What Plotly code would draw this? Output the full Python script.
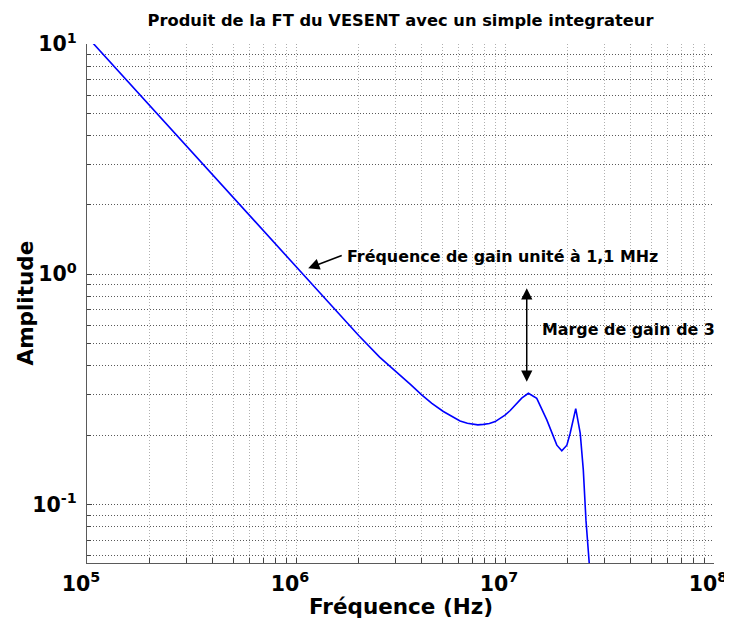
import plotly.graph_objects as go
import numpy as np

# ---- data ----
freq_hz = [1.0e5, 1.0e6, 1.585e6, 1.995e6, 2.512e6, 3.02e6, 3.548e6, 3.981e6,
           4.467e6, 5.07e6, 5.623e6, 6.095e6, 6.607e6, 6.998e6, 7.413e6,
           7.889e6, 8.414e6, 8.974e6, 9.441e6, 1.0e7, 1.059e7, 1.117e7,
           1.202e7, 1.294e7, 1.419e7, 1.585e7, 1.77e7, 1.87e7, 1.977e7,
           2.05e7, 2.18e7, 2.29e7, 2.37e7, 2.44e7, 2.53e7, 2.63e7]
amplitude = [10.77, 1.077, 0.679, 0.542, 0.4365, 0.3776, 0.331, 0.300,
             0.2748, 0.2535, 0.240, 0.2307, 0.2254, 0.2228, 0.2218,
             0.2228, 0.2249, 0.2291, 0.2355, 0.2443, 0.2559, 0.2704,
             0.2897, 0.304, 0.289, 0.233, 0.181, 0.171, 0.181,
             0.204, 0.261, 0.204, 0.141, 0.0855, 0.0557, 0.035]

x_major = [1e5, 1e6, 1e7, 1e8]
x_major_text = ["<b>10<sup>5</sup></b>", "<b>10<sup>6</sup></b>",
                "<b>10<sup>7</sup></b>", "<b>10<sup>8</sup></b>"]
y_major = [1e-1, 1e0, 1e1]
y_major_text = ["<b>10<sup>-1</sup></b>", "<b>10<sup>0</sup></b>", "<b>10<sup>1</sup></b>"]
x_minor = [m * d for d in (1e5, 1e6, 1e7) for m in range(2, 10)]
y_minor = [m * d for d in (1e-2, 1e-1, 1e0) for m in range(2, 10)]

title_text = "Produit de la FT du VESENT avec un simple integrateur"
x_label = "Fréquence (Hz)"
y_label = "Amplitude"
note_unity = "Fréquence de gain unité à 1,1 MHz"
note_margin = "Marge de gain de 3"

FONT = "DejaVu Sans"
DOTS = "1px,2px"

# page has an 8px body margin: figure is 724x620 so it fills the 732x628 window
W, H = 724, 620
ML, MR, MT, MB = 79, 18, 36, 65
PLOT_H = H - MT - MB
PLOT_W = W - ML - MR

fig = go.Figure()
fig.add_trace(go.Scatter(x=freq_hz, y=amplitude, mode="lines",
                         line=dict(color="#0000ff", width=1.6),
                         showlegend=False, hoverinfo="skip"))

axis_common = dict(
    type="log", showline=True, linecolor="#5a5a5a", linewidth=1.3,
    ticks="inside", ticklen=5, tickwidth=1, tickcolor="#444444",
    showgrid=True, griddash=DOTS, gridwidth=1,
    zeroline=False, mirror=False, automargin=False,
    ticklabeloverflow="allow",
    tickfont=dict(family=FONT, size=20.5, color="black"),
)

fig.update_xaxes(
    **axis_common,
    range=[5, 8],
    gridcolor="#a8a8a8",
    tickvals=x_major, ticktext=x_major_text,
    ticklabelstandoff=2,
    ticklabelshift=-6,
    minor=dict(tickvals=x_minor, ticks="inside", ticklen=5, tickcolor="#444444",
               showgrid=True, gridcolor="#b0b0b0", griddash=DOTS, gridwidth=1),
)
fig.update_yaxes(
    **axis_common,
    range=[np.log10(0.0557), 1],
    gridcolor="#555555",
    tickvals=y_major, ticktext=y_major_text,
    ticklabelstandoff=5,
    minor=dict(tickvals=y_minor, ticks="inside", ticklen=4, tickcolor="#444444",
               showgrid=True, gridcolor="#5a5a5a", griddash=DOTS, gridwidth=1),
)

# axis titles
fig.add_annotation(x=0.5, y=-(606 - 563) / PLOT_H, xref="paper", yref="paper",
                   text="<b>" + x_label + "</b>", showarrow=False,
                   xanchor="center", yanchor="middle",
                   font=dict(family=FONT, size=21.5, color="black"))
fig.add_annotation(x=-(87 - 25) / PLOT_W, y=0.5, xref="paper", yref="paper",
                   text="<b>" + y_label + "</b>", showarrow=False, textangle=-90,
                   xanchor="center", yanchor="middle",
                   font=dict(family=FONT, size=21.5, color="black"))

# arrow pointing at unity-gain crossing
fig.add_annotation(x=6.0584, y=0.0261, ax=6.226, ay=0.0839, xref="x", yref="y",
                   axref="x", ayref="y", text="", showarrow=True,
                   arrowhead=2, arrowsize=1.5, arrowwidth=1.5, arrowcolor="black")
# double arrow for gain margin
fig.add_annotation(x=7.104, y=np.log10(0.341), ax=7.104, ay=np.log10(0.883),
                   xref="x", yref="y", axref="x", ayref="y", text="", showarrow=True,
                   arrowhead=2, startarrowhead=2, arrowside="end+start",
                   arrowsize=1.5, startarrowsize=1.5, arrowwidth=1.5, arrowcolor="black")

fig.add_annotation(x=6.234, y=0.0752, xref="x", yref="y", text="<b>" + note_unity + "</b>",
                   showarrow=False, xanchor="left", yanchor="middle",
                   font=dict(family=FONT, size=15.9, color="black"))
fig.add_annotation(x=7.168, y=-0.242, xref="x", yref="y", text="<b>" + note_margin + "</b>",
                   showarrow=False, xanchor="left", yanchor="middle",
                   font=dict(family=FONT, size=15.9, color="black"))

fig.update_layout(
    width=W, height=H,
    margin=dict(l=ML, r=MR, t=MT, b=MB, autoexpand=False),
    paper_bgcolor="white", plot_bgcolor="white",
    title=dict(text="<b>" + title_text + "</b>", x=(400.5 - 8) / W, xanchor="center",
               y=1 - 12 / H, yanchor="middle", yref="container",
               font=dict(family=FONT, size=16.3, color="black"), automargin=False),
)

fig.write_html("out.html")
